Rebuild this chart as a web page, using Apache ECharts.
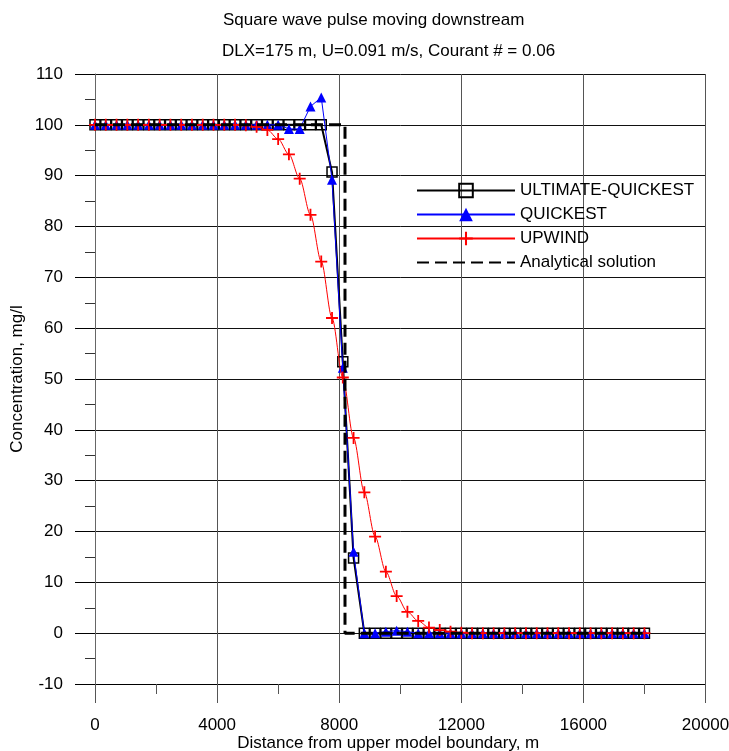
<!DOCTYPE html>
<html>
<head>
<meta charset="utf-8">
<script src="https://cdn.jsdelivr.net/npm/echarts@6/dist/echarts.min.js"></script>
<style>
  html, body { margin: 0; padding: 0; background: #fff; }
  #chart { width: 729px; height: 751px; }
</style>
</head>
<body>
<div id="chart"></div>
<script>
// distance of each model cell, m
const distance = [0, 353, 706, 1059, 1412, 1765, 2118, 2471, 2824, 3176,
    3529, 3882, 4235, 4588, 4941, 5294, 5647, 6000, 6353, 6706,
    7059, 7412, 7765, 8118, 8471, 8824, 9176, 9529, 9882, 10235,
    10588, 10941, 11294, 11647, 12000, 12353, 12706, 13059, 13412, 13765,
    14118, 14471, 14824, 15176, 15529, 15882, 16235, 16588, 16941, 17294,
    17647, 18000];

const ultimateQuickest = [100, 100, 100, 100, 100, 100, 100, 100, 100, 100,
    100, 100, 100, 100, 100, 100, 100, 100, 100, 100,
    100, 100, 90.7, 53.4, 14.8, 0, 0, 0, 0, 0,
    0, 0, 0, 0, 0, 0, 0, 0, 0, 0,
    0, 0, 0, 0, 0, 0, 0, 0, 0, 0,
    0, 0];

const quickest = [100, 100, 100, 100, 100, 100, 100, 100, 100, 100,
    100, 100, 100, 100, 100, 100, 100, 100, 99.2, 99.2,
    103.6, 105.4, 89.2, 52.2, 16, 0, 0, 0.3, 0.5, 0.3,
    0, 0, 0, 0, 0, 0, 0, 0, 0, 0,
    0, 0, 0, 0, 0, 0, 0, 0, 0, 0,
    0, 0];

const upwind = [100, 100, 100, 100, 100, 100, 100, 100, 100, 100,
    100, 100, 100, 100, 99.9, 99.6, 99, 97.2, 94.2, 89.4,
    82.3, 73.1, 62, 50.3, 38.4, 27.7, 19, 12.1, 7.3, 4.2,
    2.4, 1.1, 0.6, 0.3, 0.1, 0, 0, 0, 0, 0,
    0, 0, 0, 0, 0, 0, 0, 0, 0, 0,
    0, 0];

const analyticX = [0, 8190, 8190, 18000];
const analyticY = [100, 100, 0, 0];

const xTicks = [0, 4000, 8000, 12000, 16000, 20000];
const yTicks = [-10, 0, 10, 20, 30, 40, 50, 60, 70, 80, 90, 100, 110];

const FONT = 'Liberation Sans, Arial, sans-serif';
const FS = 17;
const plusPath = 'path://M8.5,0H11.5V8.5H20V11.5H11.5V20H8.5V11.5H0V8.5H8.5Z';

function pairs(xs, ys) {
    return xs.map((x, i) => [x, ys[i]]);
}

const chart = echarts.init(document.getElementById('chart'));

const option = {
    animation: false,
    backgroundColor: '#fff',
    textStyle: { fontFamily: FONT, color: '#000' },
    title: [
        {
            text: 'Square wave pulse moving downstream',
            left: 223, top: 12, padding: 0,
            textStyle: { fontFamily: FONT, fontSize: FS, fontWeight: 'normal', color: '#000' }
        },
        {
            text: 'DLX=175 m, U=0.091 m/s, Courant # = 0.06',
            left: 222, top: 43, padding: 0,
            textStyle: { fontFamily: FONT, fontSize: FS, fontWeight: 'normal', color: '#000' }
        }
    ],
    legend: {
        orient: 'vertical',
        left: 416,
        top: 182,
        padding: 0,
        itemWidth: 98,
        itemHeight: 17,
        itemGap: 7,
        textStyle: { fontFamily: FONT, fontSize: FS, color: '#000' },
        data: [
            'ULTIMATE-QUICKEST',
            'QUICKEST',
            'UPWIND',
            { name: 'Analytical solution', itemStyle: { opacity: 0 } }
        ]
    },
    grid: {
        left: 95,
        right: 23.5,
        top: 74,
        bottom: 67,
        containLabel: false,
        outerBoundsMode: 'none'
    },
    xAxis: {
        type: 'value',
        min: xTicks[0],
        max: xTicks[xTicks.length - 1],
        interval: 4000,
        name: 'Distance from upper model boundary, m',
        nameLocation: 'middle',
        nameGap: 51,
        nameMoveOverlap: false,
        nameTextStyle: { fontFamily: FONT, fontSize: FS, color: '#000', padding: [0, 24, 0, 0] },
        axisLine: { show: true, onZero: false, lineStyle: { color: '#000', width: 1 } },
        axisTick: { show: true, inside: false, length: 19, lineStyle: { color: '#555' } },
        minorTick: { show: true, splitNumber: 2, length: 10, lineStyle: { color: '#555' } },
        axisLabel: {
            margin: 33, fontFamily: FONT, fontSize: FS, color: '#000',
            formatter: v => String(v)
        },
        splitLine: { show: true, lineStyle: { color: '#555', width: 1 } }
    },
    yAxis: {
        type: 'value',
        min: yTicks[0],
        max: yTicks[yTicks.length - 1],
        interval: 10,
        name: 'Concentration, mg/l',
        nameLocation: 'middle',
        nameGap: 69,
        nameMoveOverlap: false,
        nameTextStyle: { fontFamily: FONT, fontSize: FS, color: '#000' },
        axisLine: { show: true, onZero: false, lineStyle: { color: '#666', width: 1 } },
        axisTick: { show: true, inside: false, length: 20, lineStyle: { color: '#000' } },
        minorTick: { show: true, splitNumber: 2, length: 10, lineStyle: { color: '#333' } },
        axisLabel: { margin: 32, fontFamily: FONT, fontSize: FS, color: '#000', formatter: v => String(v) },
        splitLine: { show: true, lineStyle: { color: '#111', width: 1 } }
    },
    series: [
        {
            name: 'ULTIMATE-QUICKEST',
            type: 'line',
            data: pairs(distance, ultimateQuickest),
            symbol: 'rect',
            symbolSize: 10,
            showAllSymbol: true,
            lineStyle: { color: '#000', width: 2 },
            itemStyle: { color: 'rgba(255,255,255,0)', borderColor: '#000', borderWidth: 1.5 },
            z: 2
        },
        {
            name: 'QUICKEST',
            type: 'line',
            data: pairs(distance, quickest),
            symbol: 'triangle',
            symbolSize: 10,
            showAllSymbol: true,
            lineStyle: { color: '#0000ff', width: 1 },
            itemStyle: { color: '#0000ff' },
            z: 3
        },
        {
            name: 'UPWIND',
            type: 'line',
            data: pairs(distance, upwind),
            symbol: plusPath,
            symbolSize: 12,
            showAllSymbol: true,
            smooth: 0.3,
            smoothMonotone: 'x',
            lineStyle: { color: '#ff0000', width: 1 },
            itemStyle: { color: '#ff0000' },
            z: 4
        },
        {
            name: 'Analytical solution',
            type: 'line',
            data: pairs(analyticX, analyticY),
            symbol: 'none',
            lineStyle: { color: '#000', width: 3, type: [12, 6] },
            itemStyle: { color: '#000' },
            z: 5
        }
    ]
};

chart.setOption(option);
</script>
</body>
</html>
